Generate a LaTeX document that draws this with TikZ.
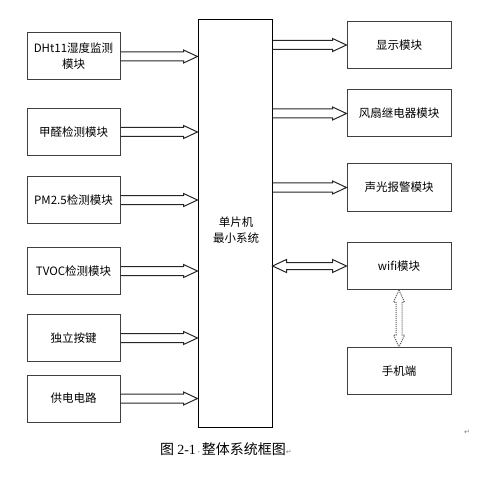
\documentclass[tikz,border=0pt]{standalone}
\usepackage{fontspec}
\setmainfont{Noto Sans CJK SC}
\newfontfamily\capfont{Liberation Serif}
\newfontfamily\symfont{DejaVu Sans}
\usetikzlibrary{calc}

% hollow block arrows between named anchors
\newcommand{\fatarrow}[2]{%
\draw[arrowline] let \p1=(#1), \p2=(#2) in
(\x1,\y1+4.5pt) -- (\x2-14pt,\y1+4.5pt) -- (\x2-14pt,\y1+6.5pt) -- (\x2,\y1)
-- (\x2-14pt,\y1-6.5pt) -- (\x2-14pt,\y1-4.5pt) -- (\x1,\y1-4.5pt);}
\newcommand{\twoarrow}[2]{%
\draw[arrowline] let \p1=(#1), \p2=(#2) in
(\x1,\y1) -- (\x1+14pt,\y1+6.5pt) -- (\x1+14pt,\y1+3.5pt) -- (\x2-14pt,\y1+3.5pt)
-- (\x2-14pt,\y1+6.5pt) -- (\x2,\y1) -- (\x2-14pt,\y1-6.5pt) -- (\x2-14pt,\y1-3.5pt)
-- (\x1+14pt,\y1-3.5pt) -- (\x1+14pt,\y1-6.5pt) -- cycle;}
\newcommand{\linkarrow}[2]{%
\draw[linkline] let \p1=(#1), \p2=(#2) in
(\x1,\y1) -- (\x1+5.5pt,\y1-12pt) -- (\x1+3pt,\y1-12pt) -- (\x1+3pt,\y2+12pt)
-- (\x1+5.5pt,\y2+12pt) -- (\x2,\y2) -- (\x1-5.5pt,\y2+12pt) -- (\x1-3pt,\y2+12pt)
-- (\x1-3pt,\y1-12pt) -- (\x1-5.5pt,\y1-12pt) -- cycle;}

\begin{document}
\begin{tikzpicture}[x=1pt, y=-1pt,
  main/.style = {draw=black!75, line width=1pt, minimum width=93pt, minimum height=47pt, align=center, inner sep=1pt, font=\fontsize{11.5}{16}\selectfont},
  outbox/.style = {main, minimum width=104pt},
  arrowline/.style = {draw=black!85, line width=1pt, line join=miter},
  linkline/.style = {draw=black!65, line width=1pt, dash pattern=on 1pt off 1pt}]
\useasboundingbox (0,0) rectangle (477,478);
% input side
\node[main] (dht) at (73.5,56.5) {DHt11湿度监测\\模块};
\node[main] (hcho) at (73.5,132) {甲醛检测模块};
\node[main] (pm) at (73.5,200) {PM2.5检测模块};
\node[main] (tvoc) at (73.5,271) {TVOC检测模块};
\node[main] (key) at (73.5,338) {独立按键};
\node[main] (pwr) at (73.5,398.5) {供电电路};
% controller
\node[draw, line width=1pt, minimum width=74pt, minimum height=407pt] (mcu) at (235,223.5) {};
\node[align=center, font=\fontsize{11.5}{16}\selectfont] (mcutxt) at (236,230) {单片机\\最小系统};
% output side
\node[outbox] (disp) at (399,45) {显示模块};
\node[outbox] (fan) at (399,113.5) {风扇继电器模块};
\node[outbox] (alarm) at (399,187.5) {声光报警模块};
\node[outbox] (wifi) at (399,266) {wifi模块};
\node[outbox] (phone) at (399,371) {手机端};
% arrows
\fatarrow{dht.east}{mcu.west |- dht.east}
\fatarrow{hcho.east}{mcu.west |- hcho.east}
\fatarrow{pm.east}{mcu.west |- pm.east}
\fatarrow{tvoc.east}{mcu.west |- tvoc.east}
\fatarrow{key.east}{mcu.west |- key.east}
\fatarrow{pwr.east}{mcu.west |- pwr.east}
\fatarrow{mcu.east |- disp.west}{disp.west}
\fatarrow{mcu.east |- fan.west}{fan.west}
\fatarrow{mcu.east |- alarm.west}{alarm.west}
\twoarrow{mcu.east |- wifi.west}{wifi.west}
\linkarrow{wifi.south}{phone.north}
% caption
\node[font=\fontsize{14}{16}\selectfont] (cap) at (226,449) {图 {\capfont 2-1}{\color{black!50}\fontsize{6}{6}\selectfont·}整体系统框图{\color{black!50}\symfont\fontsize{7}{7}\selectfont ↵}};
\node[text=black!50, font=\symfont\fontsize{7}{7}\selectfont] (mark) at (467,432) {↵};
\end{tikzpicture}
\end{document}
